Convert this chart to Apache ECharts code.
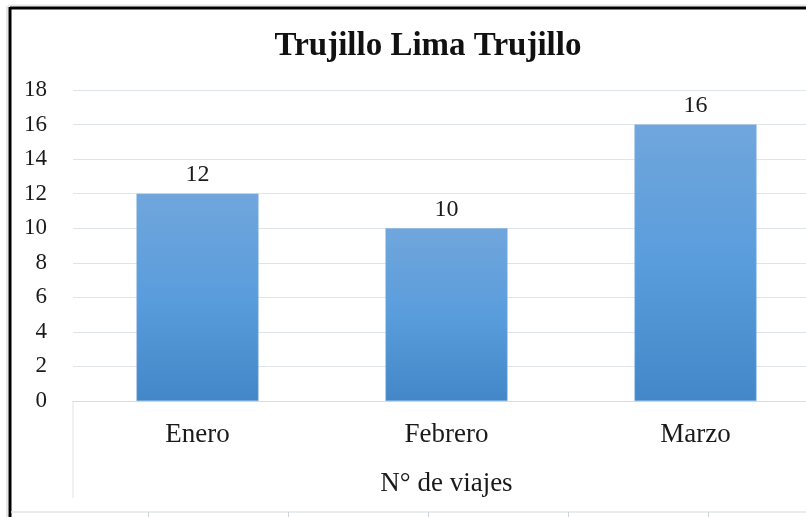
<!DOCTYPE html>
<html><head><meta charset="utf-8">
<script src="https://cdn.jsdelivr.net/npm/echarts@6/dist/echarts.min.js"></script>
<style>html,body{margin:0;padding:0;background:#fff}#c{width:806px;height:517px}</style>
</head><body><div id="c"></div>
<script>
const titleText = 'Trujillo Lima Trujillo';
const categories = ['Enero', 'Febrero', 'Marzo'];
const values = [12, 10, 16];
const axisName = 'N° de viajes';
const yMin = 0, yMax = 18, yStep = 2;

const chart = echarts.init(document.getElementById('c'));
const font = '"Liberation Serif", "Times New Roman", serif';
const txt = '#1a1a1a';
chart.setOption({
  animation: false,
  backgroundColor: '#fff',
  title: {
    text: titleText, left: 423, top: 25, textAlign: 'center',
    textStyle: { fontFamily: font, fontSize: 33, fontWeight: 'bold', color: '#111' }
  },
  grid: { left: 73, width: 747, top: 90, bottom: 116, outerBoundsMode: 'none', containLabel: false },
  xAxis: {
    type: 'category', data: categories,
    axisLine: { show: true, lineStyle: { color: '#d9dde3', width: 1 } },
    axisTick: { show: false },
    axisLabel: { fontFamily: font, fontSize: 27, color: txt, margin: 20 },
    name: axisName, nameLocation: 'middle', nameGap: 69,
    nameTextStyle: { fontFamily: font, fontSize: 27, color: txt }
  },
  yAxis: {
    type: 'value', min: yMin, max: yMax, interval: yStep,
    axisLine: { show: false }, axisTick: { show: false },
    axisLabel: { fontFamily: font, fontSize: 23, color: txt, margin: 26 },
    splitLine: { lineStyle: { color: '#dfe3ea', width: 1 } }
  },
  series: [{
    type: 'bar', data: values, barWidth: '49%',
    itemStyle: {
      color: new echarts.graphic.LinearGradient(0, 0, 0, 1, [
        { offset: 0, color: '#70a6dc' },
        { offset: 0.5, color: '#5a9ddc' },
        { offset: 1, color: '#4487c8' }
      ]),
      borderColor: '#7fb0e0', borderWidth: 0.5
    },
    label: { show: true, position: 'top', distance: 7, fontFamily: font, fontSize: 24, color: txt }
  }],
  graphic: [
    { type: 'line', shape: { x1: 73, y1: 401, x2: 73, y2: 498 }, style: { stroke: '#dfe3ea', lineWidth: 1 } },
    { type: 'line', shape: { x1: 8, y1: 5.5, x2: 806, y2: 5.5 }, style: { stroke: '#e6e6e6', lineWidth: 2 } },
    { type: 'line', shape: { x1: 7, y1: 6, x2: 7, y2: 517 }, style: { stroke: '#e6e6e6', lineWidth: 2 } },
    { type: 'line', shape: { x1: 10, y1: 8, x2: 806, y2: 8 }, style: { stroke: '#000', lineWidth: 3 } },
    { type: 'line', shape: { x1: 10, y1: 7, x2: 10, y2: 517 }, style: { stroke: '#000', lineWidth: 3 } },
    { type: 'line', shape: { x1: 11, y1: 512, x2: 806, y2: 512 }, style: { stroke: '#e3e6ea', lineWidth: 1.5 } },
    { type: 'line', shape: { x1: 148.5, y1: 512, x2: 148.5, y2: 517 }, style: { stroke: '#cfd3d8', lineWidth: 1 } },
    { type: 'line', shape: { x1: 288.5, y1: 512, x2: 288.5, y2: 517 }, style: { stroke: '#cfd3d8', lineWidth: 1 } },
    { type: 'line', shape: { x1: 428.5, y1: 512, x2: 428.5, y2: 517 }, style: { stroke: '#cfd3d8', lineWidth: 1 } },
    { type: 'line', shape: { x1: 568.5, y1: 512, x2: 568.5, y2: 517 }, style: { stroke: '#cfd3d8', lineWidth: 1 } },
    { type: 'line', shape: { x1: 708.5, y1: 512, x2: 708.5, y2: 517 }, style: { stroke: '#cfd3d8', lineWidth: 1 } }
  ]
});
</script></body></html>
